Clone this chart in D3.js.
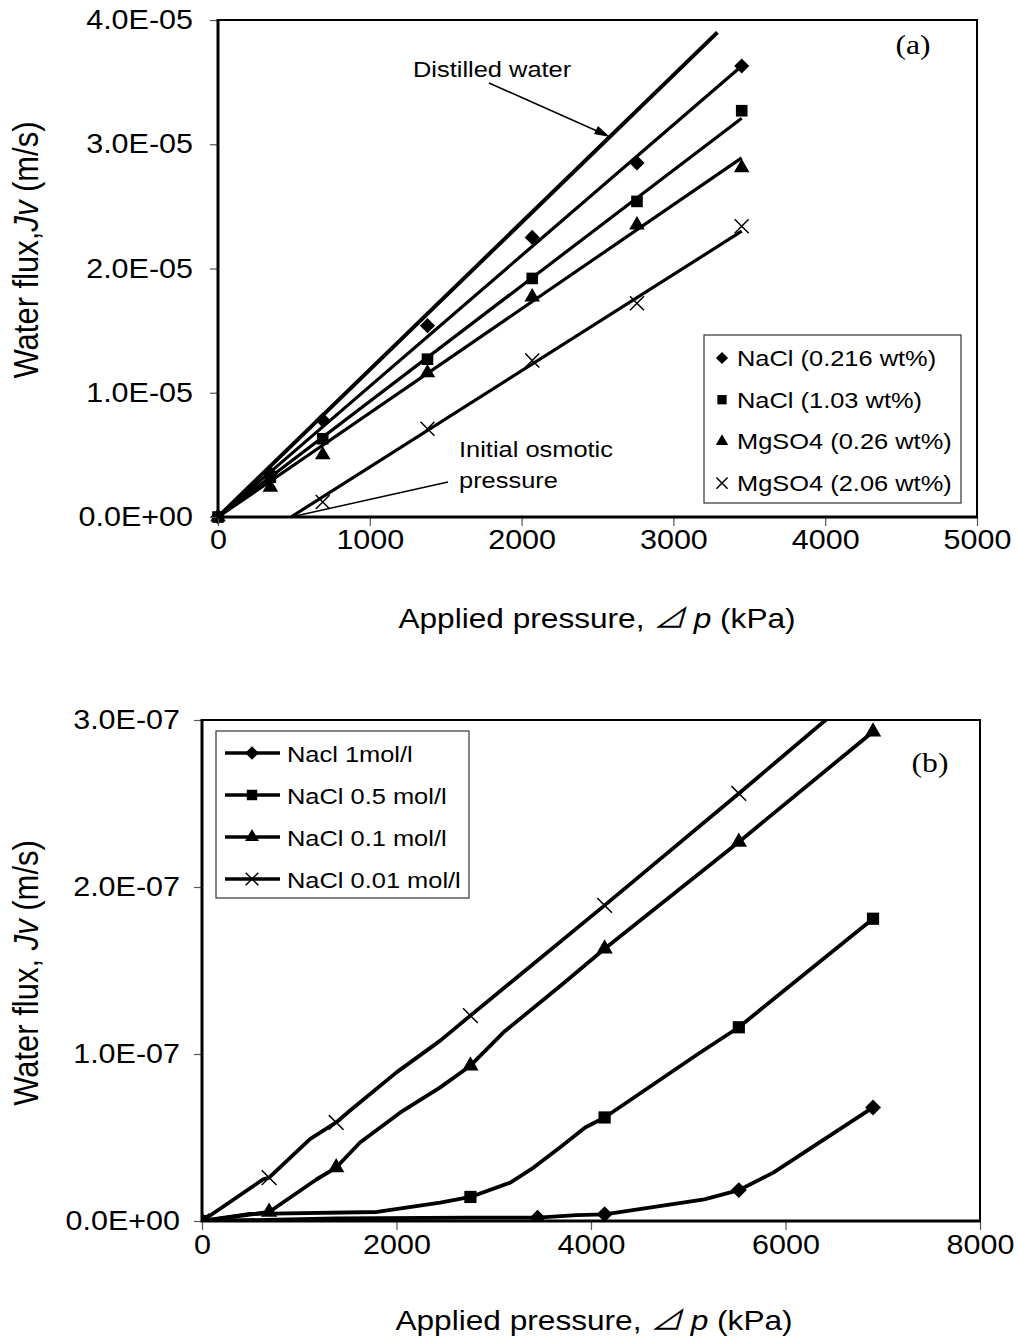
<!DOCTYPE html>
<html><head><meta charset="utf-8">
<script src="https://cdn.jsdelivr.net/npm/d3@7"></script>
<style>body{margin:0;background:#fff}svg{display:block}</style>
</head><body>
<svg id="c" width="1018" height="1339"></svg>
<script>
// ---------- DATA: panel (a) ----------
const pressureA = [0, 345, 690, 1380, 2070, 2760, 3450];
const nacl216 = [0, 3.5e-6, 7.8e-6, 1.54e-5, 2.25e-5, 2.85e-5, 3.63e-5];
const nacl103 = [0, 3.2e-6, 6.3e-6, 1.27e-5, 1.92e-5, 2.54e-5, 3.27e-5];
const mgso4026 = [0, 2.4e-6, 5.0e-6, 1.16e-5, 1.77e-5, 2.35e-5, 2.81e-5];
const mgso4206 = [null, null, 1.2e-6, 7.1e-6, 1.26e-5, 1.72e-5, 2.34e-5];
// fitted straight lines [pressure kPa, flux m/s]
const fitDistilled = [[0, 0], [3290, 3.9e-5]];
const fitNacl216 = [[0, 0], [3450, 3.63e-5]];
const fitNacl103 = [[0, 0], [3450, 3.21e-5]];
const fitMg026 = [[0, 0], [3450, 2.89e-5]];
const fitMg206 = [[481, 0], [3450, 2.30e-5]];
const legendA = ["NaCl (0.216 wt%)", "NaCl (1.03 wt%)", "MgSO4 (0.26 wt%)", "MgSO4 (2.06 wt%)"];
const xTicksA = [0, 1000, 2000, 3000, 4000, 5000];
const yTicksA = [0, 1e-5, 2e-5, 3e-5, 4e-5];

// ---------- DATA: panel (b) ----------
const pressureB = [0, 690, 1380, 2760, 3450, 4140, 5520, 6900];
const nacl1M = [0, null, null, null, 2e-9, 4e-9, 1.85e-8, 6.8e-8];
const nacl05M = [0, null, null, 1.44e-8, null, 6.2e-8, 1.16e-7, 1.81e-7];
const nacl01M = [0, 5.4e-9, 3.2e-8, 9.3e-8, null, 1.63e-7, 2.27e-7, 2.93e-7];
const nacl001M = [0, 2.6e-8, 5.9e-8, 1.23e-7, null, 1.89e-7, 2.56e-7, 3.24e-7];
// drawn traces (vertices of the plotted lines)
const nacl1Trace = [[0,0],[1380,1.5e-9],[2760,2e-9],[3450,2e-9],[3850,3.5e-9],[4140,4e-9],[5165,1.3e-8],[5520,1.85e-8],[5875,2.9e-8],[6900,6.8e-8]];
const nacl05Trace = [[0,0],[494,4.2e-9],[1800,5.4e-9],[2450,1.1e-8],[2760,1.44e-8],[3170,2.3e-8],[3410,3.2e-8],[3680,4.4e-8],[3940,5.6e-8],[4140,6.2e-8],[5100,1.0e-7],[5520,1.16e-7],[5900,1.34e-7],[6900,1.81e-7]];
const nacl01Trace = [[0,0],[690,5.4e-9],[1180,2.5e-8],[1380,3.2e-8],[1625,4.7e-8],[2040,6.5e-8],[2450,8.0e-8],[2760,9.3e-8],[3100,1.13e-7],[3690,1.41e-7],[4140,1.63e-7],[5520,2.27e-7],[6900,2.93e-7]];
const nacl001Trace = [[0,0],[630,2.5e-8],[690,2.6e-8],[1110,4.9e-8],[1380,5.9e-8],[1520,6.6e-8],[2000,8.9e-8],[2450,1.08e-7],[2760,1.23e-7],[4140,1.89e-7],[5520,2.56e-7],[6900,3.24e-7]];
const legendB = ["Nacl 1mol/l", "NaCl 0.5 mol/l", "NaCl 0.1 mol/l", "NaCl 0.01 mol/l"];
const xTicksB = [0, 2000, 4000, 6000, 8000];
const yTicksB = [0, 1e-7, 2e-7, 3e-7];

// ---------- DRAWING ----------
const svg = d3.select('#c');
const SX = 1.13;
const FONT = 'Arial, "Liberation Sans", sans-serif';

function sci(v) {
  if (v === 0) return "0.0E+00";
  const parts = v.toExponential(1).split('e');
  const n = +parts[1];
  return parts[0] + "E" + (n < 0 ? "-" : "+") + String(Math.abs(n)).padStart(2, "0");
}
function stext(g, x, y, str, size, anchor, rot, family) {
  const t = g.append('text')
    .attr('transform', `translate(${x},${y}) scale(${SX},1)` + (rot ? ` rotate(${rot})` : ''))
    .attr('font-family', family || FONT).attr('font-size', size)
    .attr('text-anchor', anchor || 'start').attr('fill', '#000');
  if (typeof str === 'string') t.text(str); else str(t);
  return t;
}
function marker(g, type, cx, cy, s) {
  s = s || 1;
  if (type === 'diamond') {
    g.append('path').attr('d', d3.symbol(d3.symbolSquare, 115 * s * s)())
      .attr('transform', `translate(${cx},${cy}) rotate(45)`).attr('fill', '#000');
  } else if (type === 'square') {
    g.append('path').attr('d', d3.symbol(d3.symbolSquare, 135 * s * s)())
      .attr('transform', `translate(${cx},${cy})`).attr('fill', '#000');
  } else if (type === 'triangle') {
    g.append('path').attr('d', d3.symbol(d3.symbolTriangle, 105 * s * s)())
      .attr('transform', `translate(${cx},${cy})`).attr('fill', '#000');
  } else if (type === 'x') {
    const h = 7 * s;
    g.append('path').attr('d', `M${cx - h},${cy - h}L${cx + h},${cy + h}M${cx - h},${cy + h}L${cx + h},${cy - h}`)
      .attr('stroke', '#000').attr('stroke-width', 1.5).attr('fill', 'none');
  }
}

function frame(g, x, y, xTicks, yTicks, xfmt, labelY, yLabelGap) {
  const [L, R] = x.range(), [B, T] = y.range();
  const ya = g.append('g').attr('transform', `translate(${L},0)`)
    .call(d3.axisLeft(y).tickValues(yTicks).tickFormat(sci).tickSize(8).tickPadding(17));
  ya.select('.domain').remove();
  ya.selectAll('line').attr('stroke', '#555').attr('stroke-width', 1.2);
  ya.selectAll('text').attr('font-family', FONT).attr('font-size', 27).attr('fill', '#000')
    .attr('x', -yLabelGap / SX).attr('transform', `scale(${SX},1)`);
  const xa = g.append('g').attr('transform', `translate(0,${B})`)
    .call(d3.axisBottom(x).tickValues(xTicks).tickFormat(xfmt).tickSize(9));
  xa.select('.domain').remove();
  xa.selectAll('line').attr('stroke', '#555').attr('stroke-width', 1.2);
  xa.selectAll('text').attr('font-family', FONT).attr('font-size', 27).attr('fill', '#000')
    .attr('y', labelY).attr('dy', 0).attr('x', 0)
    .attr('transform', `scale(${SX},1)`);
  g.append('path').attr('d', `M${L},${T}H${R}V${B}`).attr('fill', 'none').attr('stroke', '#000').attr('stroke-width', 2);
  g.append('path').attr('d', `M${L},${T - 1}V${B}H${R + 1}`).attr('fill', 'none').attr('stroke', '#000').attr('stroke-width', 3);
}

// ================= PANEL (a) =================
const gA = svg.append('g');
const xA = d3.scaleLinear([0, 5000], [218, 977]);
const yA = d3.scaleLinear([0, 4e-5], [517, 20]);
const lineA = d3.line().x(d => xA(d[0])).y(d => yA(d[1]));

[fitNacl216, fitNacl103, fitMg026, fitMg206].forEach(f => {
  gA.append('path').attr('d', lineA(f)).attr('fill', 'none').attr('stroke', '#000').attr('stroke-width', 3.2);
});
gA.append('path').attr('d', lineA(fitDistilled)).attr('fill', 'none').attr('stroke', '#000').attr('stroke-width', 4);

const seriesA = [[nacl216, 'diamond'], [nacl103, 'square'], [mgso4026, 'triangle'], [mgso4206, 'x']];
seriesA.forEach(([vals, type]) => {
  vals.forEach((v, i) => { if (v !== null) marker(gA, type, xA(pressureA[i]), yA(v)); });
});

frame(gA, xA, yA, xTicksA, yTicksA, d3.format('d'), 32, 25);

// legend (a)
gA.append('rect').attr('x', 704).attr('y', 335).attr('width', 257).attr('height', 168)
  .attr('fill', '#fff').attr('stroke', '#333').attr('stroke-width', 1.2);
const legTypesA = ['diamond', 'square', 'triangle', 'x'];
legendA.forEach((name, i) => {
  const cy = 357 + i * 41.7;
  marker(gA, legTypesA[i], 722, cy + 1, 0.8);
  stext(gA, 737, cy + 9, name, 22.5);
});

// annotations (a)
stext(gA, 413, 77, "Distilled water", 22.5);
gA.append('line').attr('x1', 489).attr('y1', 83).attr('x2', 606).attr('y2', 135)
  .attr('stroke', '#000').attr('stroke-width', 1.5);
gA.append('path').attr('d', 'M610,137 L598,126 L594,134 Z').attr('fill', '#000');
stext(gA, 459, 457, "Initial osmotic", 22.5);
stext(gA, 459, 488, "pressure", 22.5);
gA.append('line').attr('x1', 448).attr('y1', 482).attr('x2', xA(fitMg206[0][0])).attr('y2', yA(0))
  .attr('stroke', '#000').attr('stroke-width', 1.5);
stext(gA, 913, 54, "(a)", 28, 'middle', 0, '"Liberation Serif", "Times New Roman", serif');

// axis titles (a)
stext(gA, 597, 628, t => {
  t.append('tspan').text('Applied pressure, ');
  t.append('tspan').attr('font-family', '"Noto Sans CJK JP", sans-serif').attr('font-style', 'italic').text('⊿');
  t.append('tspan').attr('font-style', 'italic').text(' p');
  t.append('tspan').text('  (kPa)');
}, 28, 'middle');
stext(gA, 38, 250, t => {
  t.append('tspan').text('Water flux,');
  t.append('tspan').attr('font-style', 'italic').text('Jv');
  t.append('tspan').text('  (m/s)');
}, 31, 'middle', -90);

// ================= PANEL (b) =================
const gB = svg.append('g');
const xB = d3.scaleLinear([0, 8000], [202, 980]);
const yB = d3.scaleLinear([0, 3e-7], [1221, 720]);
const lineB = d3.line().x(d => xB(d[0])).y(d => yB(d[1]));
svg.append('defs').append('clipPath').attr('id', 'clipB')
  .append('rect').attr('x', 202).attr('y', 720).attr('width', 778).attr('height', 501);
const plotB = gB.append('g').attr('clip-path', 'url(#clipB)');

const seriesB = [[nacl1Trace, nacl1M, 'diamond'], [nacl05Trace, nacl05M, 'square'], [nacl01Trace, nacl01M, 'triangle'], [nacl001Trace, nacl001M, 'x']];
seriesB.forEach(([trace]) => {
  plotB.append('path').attr('d', lineB(trace)).attr('fill', 'none').attr('stroke', '#000')
    .attr('stroke-width', 3.8).attr('stroke-linejoin', 'round');
});
seriesB.forEach(([trace, vals, type]) => {
  vals.forEach((v, i) => { if (v !== null) marker(plotB, type, xB(pressureB[i]), yB(v), 1.05); });
});

frame(gB, xB, yB, xTicksB, yTicksB, d3.format('d'), 33, 22);

// legend (b)
gB.append('rect').attr('x', 216).attr('y', 731).attr('width', 253).attr('height', 167)
  .attr('fill', '#fff').attr('stroke', '#333').attr('stroke-width', 1.2);
const legTypesB = ['diamond', 'square', 'triangle', 'x'];
legendB.forEach((name, i) => {
  const cy = 753 + i * 42;
  gB.append('line').attr('x1', 225).attr('x2', 280).attr('y1', cy).attr('y2', cy)
    .attr('stroke', '#000').attr('stroke-width', 3.5);
  marker(gB, legTypesB[i], 252, cy, 0.9);
  stext(gB, 287, cy + 9, name, 22.5);
});
stext(gB, 930, 772, "(b)", 28, 'middle', 0, '"Liberation Serif", "Times New Roman", serif');

// axis titles (b)
stext(gB, 594, 1330, t => {
  t.append('tspan').text('Applied pressure, ');
  t.append('tspan').attr('font-family', '"Noto Sans CJK JP", sans-serif').attr('font-style', 'italic').text('⊿');
  t.append('tspan').attr('font-style', 'italic').text(' p');
  t.append('tspan').text('  (kPa)');
}, 28, 'middle');
stext(gB, 38, 973, t => {
  t.append('tspan').text('Water flux, ');
  t.append('tspan').attr('font-style', 'italic').text('Jv');
  t.append('tspan').text('  (m/s)');
}, 31, 'middle', -90);
</script>
</body></html>
